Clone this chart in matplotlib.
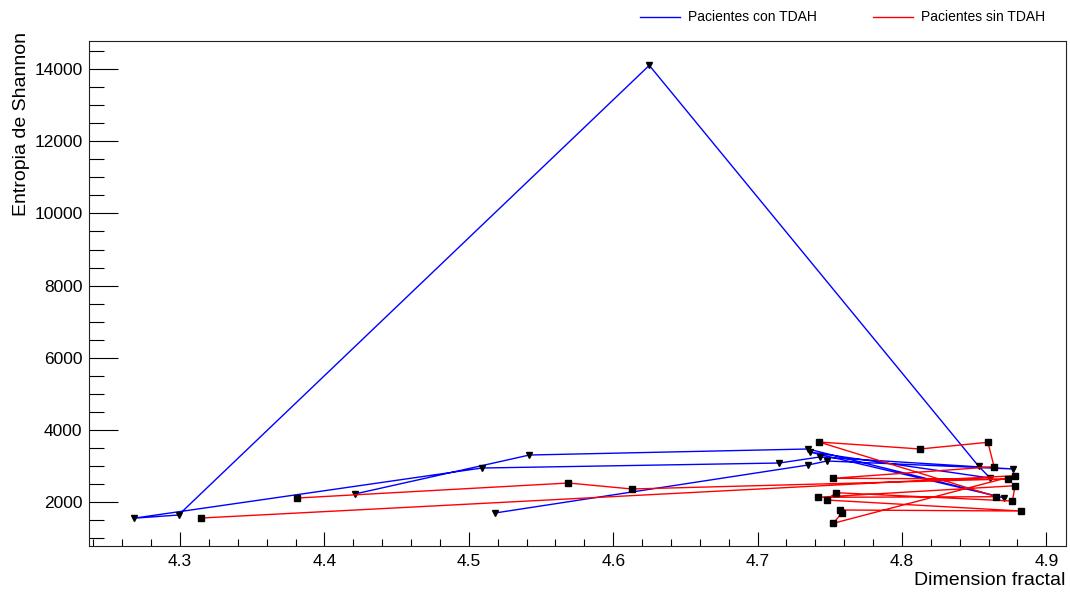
import matplotlib
matplotlib.use('Agg')
import matplotlib.pyplot as plt
from matplotlib.lines import Line2D
from matplotlib.ticker import MultipleLocator, FormatStrFormatter

plt.rcParams['font.family'] = ['Liberation Sans', 'DejaVu Sans']

# Pacientes con TDAH (order of the graph points)
con_dim = [4.421, 4.542, 4.735, 4.871, 4.736, 4.861, 4.853, 4.625, 4.299,
           4.268, 4.509, 4.715, 4.743, 4.877, 4.748, 4.735, 4.518]
con_ent = [2215, 3297, 3464, 2104, 3380, 2659, 2990, 14110, 1632,
           1543, 2936, 3075, 3242, 2909, 3131, 3020, 1687]

# Pacientes sin TDAH
sin_dim = [4.381, 4.569, 4.613, 4.8735, 4.7524, 4.8638, 4.8595, 4.8125, 4.7425,
           4.8654, 4.7416, 4.8783, 4.8765, 4.7543, 4.7478, 4.8822, 4.7571,
           4.7582, 4.7524, 4.8783, 4.3145]
sin_ent = [2103, 2520, 2354, 2631, 2651, 2972, 3650, 3464, 3658,
           2140, 2123, 2445, 2020, 2251, 2048, 1743, 1771,
           1679, 1402, 2723, 1548]

fig = plt.figure(figsize=(10.7, 5.92), dpi=100, facecolor='white')
ax = fig.add_axes([0.0835, 0.0777, 0.9125, 0.8523])

ax.plot(con_dim, con_ent, color='#0000ff', lw=1.0, marker='v', ms=4.5,
        mfc='black', mec='black', zorder=3)
ax.plot(sin_dim, sin_ent, color='#ff0000', lw=1.0, marker='s', ms=4,
        mfc='black', mec='black', zorder=3)

ax.set_xlim(4.2372, 4.9134)
ax.set_ylim(772, 14774)

ax.xaxis.set_major_locator(MultipleLocator(0.1))
ax.xaxis.set_minor_locator(MultipleLocator(0.02))
ax.xaxis.set_major_formatter(FormatStrFormatter('%.1f'))
ax.yaxis.set_major_locator(MultipleLocator(2000))
ax.yaxis.set_minor_locator(MultipleLocator(500))

ax.tick_params(axis='x', which='major', direction='in', length=10, width=0.8,
               labelsize=12.5, pad=6)
ax.tick_params(axis='x', which='minor', direction='in', length=5, width=0.8)
ax.tick_params(axis='y', which='major', direction='in', length=21, width=0.8,
               labelsize=12.5, pad=5)
ax.tick_params(axis='y', which='minor', direction='in', length=10.5, width=0.8)
for s in ax.spines.values():
    s.set_linewidth(0.8)
    s.set_color('#222222')

fig.text(1065.7 / 1070, 1 - 572 / 592, 'Dimension fractal', ha='right', va='top',
         fontsize=14)
fig.text(22 / 1070, 1 - 32 / 592, 'Entropia de Shannon', ha='center', va='top',
         rotation=90, fontsize=14)

# legend above the frame
ly = 1 - 17 / 592
fig.add_artist(Line2D([640 / 1070, 680 / 1070], [ly, ly], color='#0000ff', lw=1.0))
fig.text(688 / 1070, ly, 'Pacientes con TDAH', ha='left', va='center', fontsize=10)
fig.add_artist(Line2D([873 / 1070, 913 / 1070], [ly, ly], color='#ff0000', lw=1.0))
fig.text(921 / 1070, ly, 'Pacientes sin TDAH', ha='left', va='center', fontsize=10)

fig.savefig('out.png', dpi=100)
